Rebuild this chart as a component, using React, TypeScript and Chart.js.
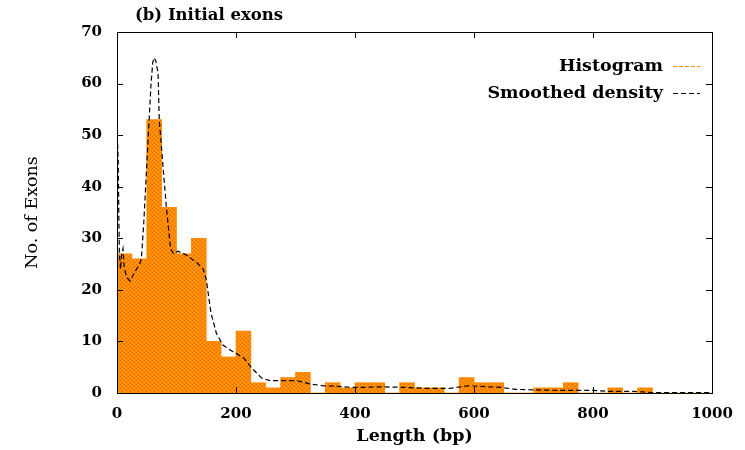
import React, { useEffect, useRef } from "react";
import { Chart, registerables } from "chart.js";

Chart.register(...registerables);

const chartTitle = "(b) Initial exons";
const xAxisTitle = "Length (bp)";
const yAxisTitle = "No. of Exons";
const seriesNames = ["Histogram", "Smoothed density"];

const binCenters = [
  12.5, 37.5, 62.5, 87.5, 112.5, 137.5, 162.5, 187.5, 212.5, 237.5,
  262.5, 287.5, 312.5, 337.5, 362.5, 387.5, 412.5, 437.5, 462.5, 487.5,
  512.5, 537.5, 562.5, 587.5, 612.5, 637.5, 662.5, 687.5, 712.5, 737.5,
  762.5, 787.5, 812.5, 837.5, 862.5, 887.5, 912.5, 937.5, 962.5, 987.5,
];
const binCounts = [
  27, 26, 53, 36, 27, 30, 10, 7, 12, 2,
  1, 3, 4, 0, 2, 1, 2, 2, 0, 2,
  1, 1, 0, 3, 2, 2, 0, 0, 1, 1,
  2, 0, 0, 1, 0, 1, 0, 0, 0, 0,
];

const densityX = [
  0, 0.5, 2, 3, 4, 6, 8, 10, 12, 16, 22, 30, 38, 41, 45, 49, 54, 57, 60, 62,
  65, 69, 71, 78, 83, 90, 95, 102, 116, 134, 145, 150, 158, 167, 178, 195, 213,
  226, 243, 257, 280, 302, 325, 347, 370, 393, 415, 440, 480, 520, 560, 590,
  625, 645, 670, 700, 750, 800, 830, 870, 900, 1000,
];
const densityY = [
  16, 50, 45, 35, 27, 24, 27, 28, 24.5, 22.5, 21.7, 23.5, 25, 26, 33, 42, 53,
  59.6, 64, 65, 64.5, 62, 53, 43, 36, 28, 27, 27.5, 26.8, 25.3, 24, 22, 15.5,
  11.6, 9.3, 8, 6.8, 4.9, 2.9, 2.4, 2.4, 2.4, 1.75, 1.4, 1.3, 1.1, 1.1, 1.2,
  1.1, 0.9, 0.9, 1.4, 1.2, 1.1, 0.7, 0.6, 0.5, 0.5, 0.3, 0.3, 0.1, 0.1,
];

const xTicks = [0, 200, 400, 600, 800, 1000];
const yTicks = [0, 10, 20, 30, 40, 50, 60, 70];

const FONT = "'DejaVu Serif', 'Liberation Serif', serif";
const ORANGE = "#ff8400";

function makePattern(ctx: CanvasRenderingContext2D): CanvasPattern | string {
  const c = document.createElement("canvas");
  c.width = 4;
  c.height = 4;
  const g = c.getContext("2d");
  if (!g) return ORANGE;
  g.fillStyle = "#ff8a00";
  g.fillRect(0, 0, 4, 4);
  g.fillStyle = "#f06a00";
  g.fillRect(0, 0, 1, 1);
  g.fillRect(2, 2, 1, 1);
  g.fillStyle = "#ffa826";
  g.fillRect(2, 0, 1, 1);
  g.fillRect(0, 2, 1, 1);
  return ctx.createPattern(c, "repeat") || ORANGE;
}

const framePlugin = {
  id: "frameTicks",
  afterDatasetsDraw(chart: any) {
    const { ctx, chartArea, scales } = chart;
    const { left, right, top, bottom } = chartArea;
    const xs = scales.x;
    const ys = scales.y;
    ctx.save();
    ctx.strokeStyle = "#000";
    ctx.lineWidth = 1;
    ctx.setLineDash([]);
    ctx.strokeRect(Math.round(left) + 0.5, Math.round(top) + 0.5, Math.round(right - left), Math.round(bottom - top));
    ctx.beginPath();
    const len = 6;
    xTicks.forEach((v) => {
      const px = Math.round(xs.getPixelForValue(v)) + 0.5;
      ctx.moveTo(px, bottom);
      ctx.lineTo(px, bottom - len);
      ctx.moveTo(px, top);
      ctx.lineTo(px, top + len);
    });
    yTicks.forEach((v) => {
      const py = Math.round(ys.getPixelForValue(v)) + 0.5;
      ctx.moveTo(left, py);
      ctx.lineTo(left + len, py);
      ctx.moveTo(right, py);
      ctx.lineTo(right - len, py);
    });
    ctx.stroke();
    ctx.restore();
  },
  afterDraw(chart: any) {
    const { ctx } = chart;
    ctx.save();
    ctx.fillStyle = "#000";
    ctx.textBaseline = "middle";
    ctx.font = `bold 16.5px ${FONT}`;
    ctx.textAlign = "left";
    ctx.fillText(chartTitle, 135, 16);

    const styles = [
      { color: ORANGE, dash: [4, 2] },
      { color: "#000", dash: [5, 3] },
    ];
    const rows = [66, 93];
    ctx.font = `bold 17.5px ${FONT}`;
    ctx.textAlign = "right";
    seriesNames.forEach((name, i) => {
      ctx.fillStyle = "#000";
      ctx.fillText(name, 663, rows[i]);
      ctx.beginPath();
      ctx.strokeStyle = styles[i].color;
      ctx.lineWidth = 1;
      ctx.setLineDash(styles[i].dash);
      ctx.moveTo(673, Math.round(rows[i]) + 0.5);
      ctx.lineTo(700, Math.round(rows[i]) + 0.5);
      ctx.stroke();
    });
    ctx.restore();
  },
};

export default function App() {
  const ref = useRef<HTMLCanvasElement | null>(null);

  useEffect(() => {
    document.body.style.margin = "0";
    const canvas = ref.current;
    if (!canvas) return;
    const ctx = canvas.getContext("2d");
    if (!ctx) return;
    const pattern = makePattern(ctx);

    const chart = new Chart(ctx, {
      type: "bar",
      data: {
        datasets: [
          {
            type: "line",
            label: seriesNames[1],
            data: densityX.map((x, i) => ({ x, y: densityY[i] })),
            borderColor: "#000",
            borderWidth: 1.2,
            borderDash: [5, 3],
            pointRadius: 0,
            tension: 0,
            fill: false,
            order: 0,
          } as any,
          {
            type: "bar",
            label: seriesNames[0],
            data: binCenters.map((x, i) => ({ x, y: binCounts[i] })),
            backgroundColor: pattern as any,
            borderWidth: 0,
            barPercentage: 1,
            categoryPercentage: 1,
            order: 1,
          } as any,
        ],
      },
      options: {
        animation: false,
        responsive: false,
        devicePixelRatio: 1,
        layout: { padding: { top: 32, right: 33, left: 0, bottom: 0 } },
        plugins: {
          legend: { display: false },
          title: { display: false },
          tooltip: { enabled: false },
        },
        scales: {
          x: {
            type: "linear",
            min: 0,
            max: 1000,
            offset: false,
            grid: { display: false },
            border: { display: false },
            afterBuildTicks: (s: any) => {
              s.ticks = xTicks.map((v) => ({ value: v }));
            },
            afterFit: (s: any) => {
              s.height = 57;
            },
            ticks: {
              color: "#000",
              padding: 4,
              maxRotation: 0,
              autoSkip: false,
              callback: (v: any) => String(v),
              font: { family: FONT, weight: "bold", size: 15 },
            },
            title: {
              display: true,
              text: xAxisTitle,
              color: "#000",
              font: { family: FONT, weight: "bold", size: 17.5 },
              padding: { top: 0, bottom: 3 },
            },
          },
          y: {
            type: "linear",
            min: 0,
            max: 70,
            grid: { display: false },
            border: { display: false },
            afterBuildTicks: (s: any) => {
              s.ticks = yTicks.map((v) => ({ value: v }));
            },
            afterFit: (s: any) => {
              s.width = 117;
            },
            ticks: {
              color: "#000",
              padding: 7,
              autoSkip: false,
              callback: (v: any) => String(v),
              font: { family: FONT, weight: "bold", size: 15 },
            },
            title: {
              display: true,
              text: yAxisTitle,
              color: "#000",
              font: { family: FONT, weight: "normal", size: 17.5 },
              padding: { top: 22, bottom: 0 },
            },
          },
        },
      } as any,
      plugins: [framePlugin],
    });

    return () => {
      chart.destroy();
    };
  }, []);

  return (
    <canvas
      ref={ref}
      width={745}
      height={450}
      style={{ display: "block", width: 745, height: 450 }}
    />
  );
}
